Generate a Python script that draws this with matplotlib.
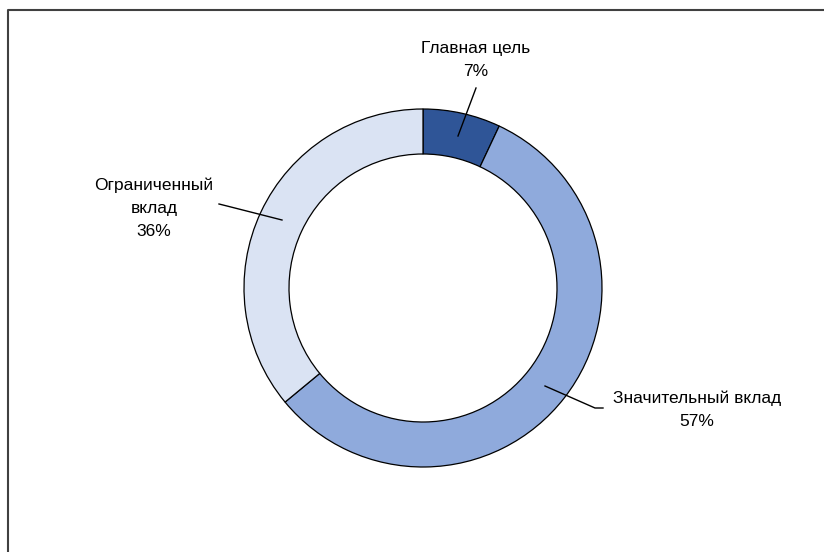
import matplotlib
matplotlib.use('Agg')
import matplotlib.pyplot as plt

# данные
labels = ['Главная цель', 'Значительный вклад', 'Ограниченный\nвклад']
shares = [7, 57, 36]
colors = ['#2F5597', '#8FAADC', '#DAE3F3']

W, H = 824, 552
plt.rcParams['font.family'] = ['Liberation Sans', 'DejaVu Sans']

fig = plt.figure(figsize=(W / 100, H / 100), dpi=100)
ax = fig.add_axes([0, 0, 1, 1])

cx, cy, r = 423, H - 288, 179
ax.pie(shares, colors=colors, startangle=90, counterclock=False,
       center=(cx, cy), radius=r, frame=True,
       wedgeprops=dict(width=45, edgecolor='black', linewidth=0.9))
ax.set_xlim(0, W)
ax.set_ylim(0, H)
ax.set_aspect('equal')
ax.axis('off')

# рамка
ax.plot([8, 8, W], [0, H - 10, H - 10], color='#404040', lw=1.5, clip_on=False)

def P(x, y):
    return x, H - y

fs = 12.5
ls = 1.65
txt = [lab + '\n' + str(v) + '%' for lab, v in zip(labels, shares)]
ax.text(*P(476, 60), txt[0], ha='center', va='center', fontsize=fs, linespacing=ls)
ax.text(*P(697, 410), txt[1], ha='center', va='center', fontsize=fs, linespacing=ls)
ax.text(*P(154, 208), txt[2], ha='center', va='center', fontsize=fs, linespacing=ls)

# выноски
for xs, ys in [([458, 476], [136, 88]),
               ([545, 595, 603], [386, 408, 408]),
               ([282, 227, 219], [220, 206, 204])]:
    ax.plot(xs, [H - y for y in ys], color='black', lw=1)

fig.savefig('out.png', dpi=100)
